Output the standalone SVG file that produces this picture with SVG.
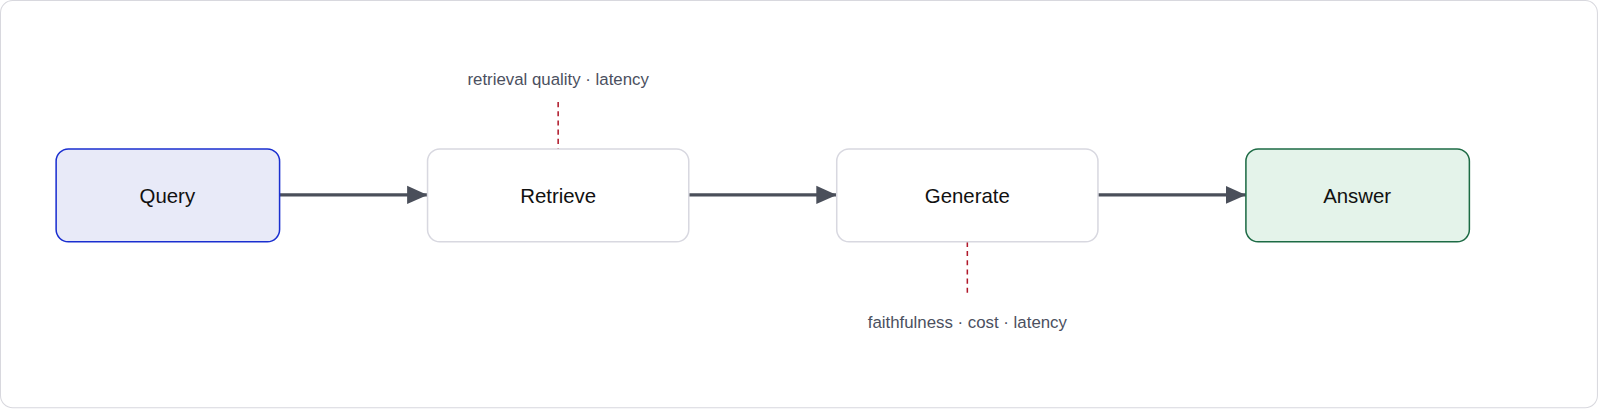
<svg xmlns="http://www.w3.org/2000/svg" width="1600" height="409" viewBox="0 0 1600 409">
<style>
.lbl{font-family:"Liberation Sans",Arial,sans-serif;font-size:20px;fill:#111;text-anchor:middle;dominant-baseline:central}
.note{font-family:"Liberation Sans",Arial,sans-serif;font-size:16.5px;fill:#4b5060;text-anchor:middle}
.edge{stroke:#4a4f5a;stroke-width:3;fill:none}
.dash{stroke:#b0182a;stroke-width:1.5;stroke-dasharray:5 4;fill:none}
</style>
<defs>
<marker id="a2" markerWidth="20" markerHeight="20" refX="20" refY="10" orient="auto" markerUnits="userSpaceOnUse"><path d="M0,1 L20,10 L0,19z" fill="#4a4f5a"/></marker></defs>
<g transform="scale(1.0204)">
<rect x="0.5" y="0.5" width="1565" height="399" rx="12" fill="#fff" stroke="#d8d8de"/>
<g id="connectors">
<path class="edge" d="M274,191 H419" marker-end="url(#a2)"/>
<path class="edge" d="M675,191 H820" marker-end="url(#a2)"/>
<path class="edge" d="M1076,191 H1221" marker-end="url(#a2)"/>
<path class="dash" d="M547,100 V146"/>
<path class="dash" d="M948,237 V287"/>
</g>
<g id="query"><rect x="55" y="146" width="219" height="91" rx="12" fill="#e8eaf8" stroke="#1a2fd0" stroke-width="1.5"/><text class="lbl" x="164" y="192">Query</text></g>
<g id="retrieve"><rect x="419" y="146" width="256" height="91" rx="12" fill="#fff" stroke="#d8d8e0" stroke-width="1.5"/><text class="lbl" x="547" y="192">Retrieve</text></g>
<g id="generate"><rect x="820" y="146" width="256" height="91" rx="12" fill="#fff" stroke="#d8d8e0" stroke-width="1.5"/><text class="lbl" x="948" y="192">Generate</text></g>
<g id="answer"><rect x="1221" y="146" width="219" height="91" rx="12" fill="#e4f3ea" stroke="#1d6b45" stroke-width="1.5"/><text class="lbl" x="1330" y="192">Answer</text></g>
<text class="note" x="547" y="83">retrieval quality · latency</text>
<text class="note" x="948" y="321">faithfulness · cost · latency</text>
</g>
</svg>
